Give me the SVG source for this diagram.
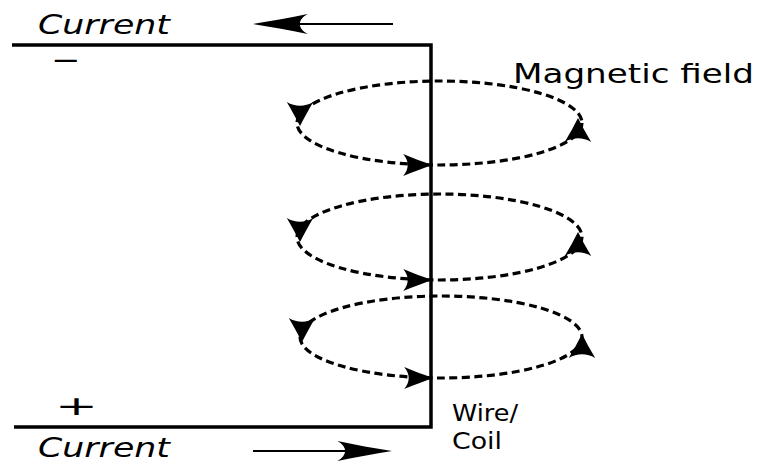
<svg xmlns="http://www.w3.org/2000/svg" width="759" height="464" viewBox="0 0 759 464">
<style>
.wire{fill:none;stroke:#000;stroke-width:3.5;stroke-linejoin:miter}
.field{fill:none;stroke:#000;stroke-width:3.2;stroke-dasharray:8,4.5}
.thin{fill:none;stroke:#000;stroke-width:1.8}
.lbl{font-family:"DejaVu Sans","Liberation Sans",sans-serif;fill:#000}
.it{font-style:italic}
</style>
<defs>
<path id="ah" d="M0,0 C-7,-3 -16,-7 -24,-11 C-19,-4 -19,4 -24,11 C-16,7 -7,3 0,0 Z" fill="#000"/>
<path id="bh" d="M0,0 C-14,-3 -28,-6 -42,-10 C-34,-4 -34,4 -42,10 C-28,6 -14,3 0,0 Z" fill="#000"/>
</defs>
<g id="circuit">
<path class="wire" d="M12,45 H431 V427 H14"/>
</g>
<g id="fields">
<g id="field1">
<ellipse class="field" cx="439.5" cy="123" rx="142.5" ry="42"/>
<use href="#ah" transform="translate(300,126) scale(1.2,1) rotate(90)"/>
<use href="#ah" transform="translate(578,118) scale(1.2,1) rotate(-90)"/>
<use href="#ah" transform="translate(432,165) scale(1.2,1)"/>
</g>
<g id="field2">
<ellipse class="field" cx="439.5" cy="237" rx="142.5" ry="43"/>
<use href="#ah" transform="translate(300,242) scale(1.2,1) rotate(90)"/>
<use href="#ah" transform="translate(578,232) scale(1.2,1) rotate(-90)"/>
<use href="#ah" transform="translate(432,280) scale(1.2,1)"/>
</g>
<g id="field3">
<ellipse class="field" cx="441" cy="337" rx="141" ry="41"/>
<use href="#ah" transform="translate(302,342) scale(1.2,1) rotate(90)"/>
<use href="#ah" transform="translate(582,334) scale(1.2,1) rotate(-90)"/>
<use href="#ah" transform="translate(433,378) scale(1.2,1)"/>
</g>
</g>
<g id="connectors">
<line class="thin" x1="393" y1="24" x2="262" y2="24"/>
<use href="#bh" transform="translate(253,24) scale(-1.3,1)"/>
<line class="thin" x1="253" y1="451" x2="384" y2="451"/>
<use href="#bh" transform="translate(392,451) scale(1.3,1)"/>
</g>
<g id="labels">
<text class="lbl it" x="38" y="34" font-size="27" textLength="132" lengthAdjust="spacingAndGlyphs">Current</text>
<text class="lbl it" x="38" y="457" font-size="26" textLength="132" lengthAdjust="spacingAndGlyphs">Current</text>
<text class="lbl" x="513" y="83" font-size="27" textLength="241" lengthAdjust="spacingAndGlyphs">Magnetic field</text>
<text class="lbl" x="452" y="421" font-size="23" textLength="66" lengthAdjust="spacingAndGlyphs">Wire/</text>
<text class="lbl" x="452" y="449" font-size="23" textLength="50" lengthAdjust="spacingAndGlyphs">Coil</text>
<text class="lbl" transform="translate(51,69) scale(1.3,1)" font-size="27">−</text>
<text class="lbl" transform="translate(55,415) scale(1.9,1)" font-size="27">+</text>
</g>
</svg>
